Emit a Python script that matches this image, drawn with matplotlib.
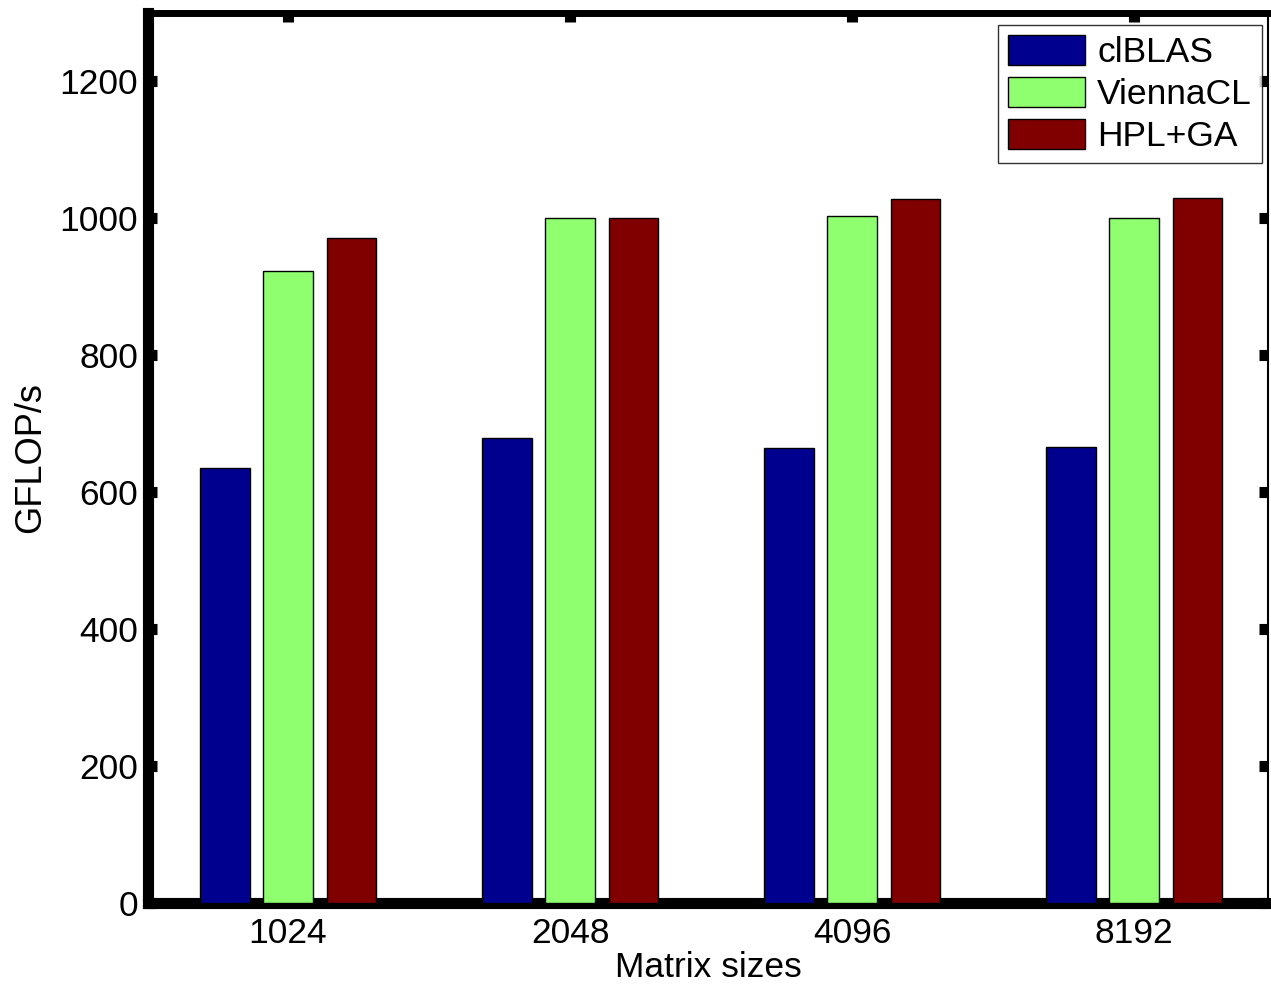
import matplotlib
matplotlib.use("Agg")
import matplotlib.pyplot as plt
import numpy as np

categories = ["1024", "2048", "4096", "8192"]
series_names = ["clBLAS", "ViennaCL", "HPL+GA"]
clblas = [635, 679, 664, 666]
viennacl = [923, 1001, 1004, 1001]
hplga = [972, 1001, 1029, 1030]
yticks = [0, 200, 400, 600, 800, 1000, 1200]
colors = ["#00008F", "#8FFF6F", "#800000"]

plt.rcParams['font.family'] = ['Liberation Sans', 'DejaVu Sans']

W, H = 1271, 990
fig = plt.figure(figsize=(W / 100, H / 100), dpi=100)
ax = fig.add_axes([148 / W, 1 - 903 / H, 1120 / W, 890 / H])

x = np.arange(1, len(categories) + 1)
offsets = [-0.225, 0.0, 0.225]
width = 0.177
for vals, off, col, name in zip([clblas, viennacl, hplga], offsets, colors, series_names):
    ax.bar(x + off, vals, width=width, color=col, edgecolor="black",
           linewidth=1.0, label=name, zorder=3)

ax.set_xlim(0.5035, 4.475)
ax.set_ylim(0, 1300)
ax.set_xticks(x)
ax.set_xticklabels(categories)
ax.set_yticks(yticks)

ax.spines['left'].set_linewidth(8)
ax.spines['bottom'].set_linewidth(8)
ax.spines['top'].set_linewidth(5)
ax.spines['right'].set_linewidth(1.5)
for s in ax.spines.values():
    s.set_zorder(2.5)

ax.tick_params(axis='both', which='major', direction='in', labelsize=25.5,
               length=6.5, width=8, top=True, right=True, pad=7)
ax.tick_params(axis='x', pad=10)

ax.set_xlabel("Matrix sizes", fontsize=25.5, labelpad=1)
ax.set_ylabel("GFLOP/s", fontsize=26, labelpad=8)

leg = ax.legend(loc='upper right', fontsize=25.5, frameon=True, fancybox=False,
                edgecolor='black', handlelength=2.18, handleheight=0.93,
                handletextpad=0.35, borderpad=0.28, labelspacing=0.22,
                borderaxespad=0,
                bbox_to_anchor=(1262 / W, 1 - 25 / H),
                bbox_transform=fig.transFigure)
leg.get_frame().set_linewidth(1.0)
leg.set_zorder(5)

fig.savefig("out.png", dpi=100)
